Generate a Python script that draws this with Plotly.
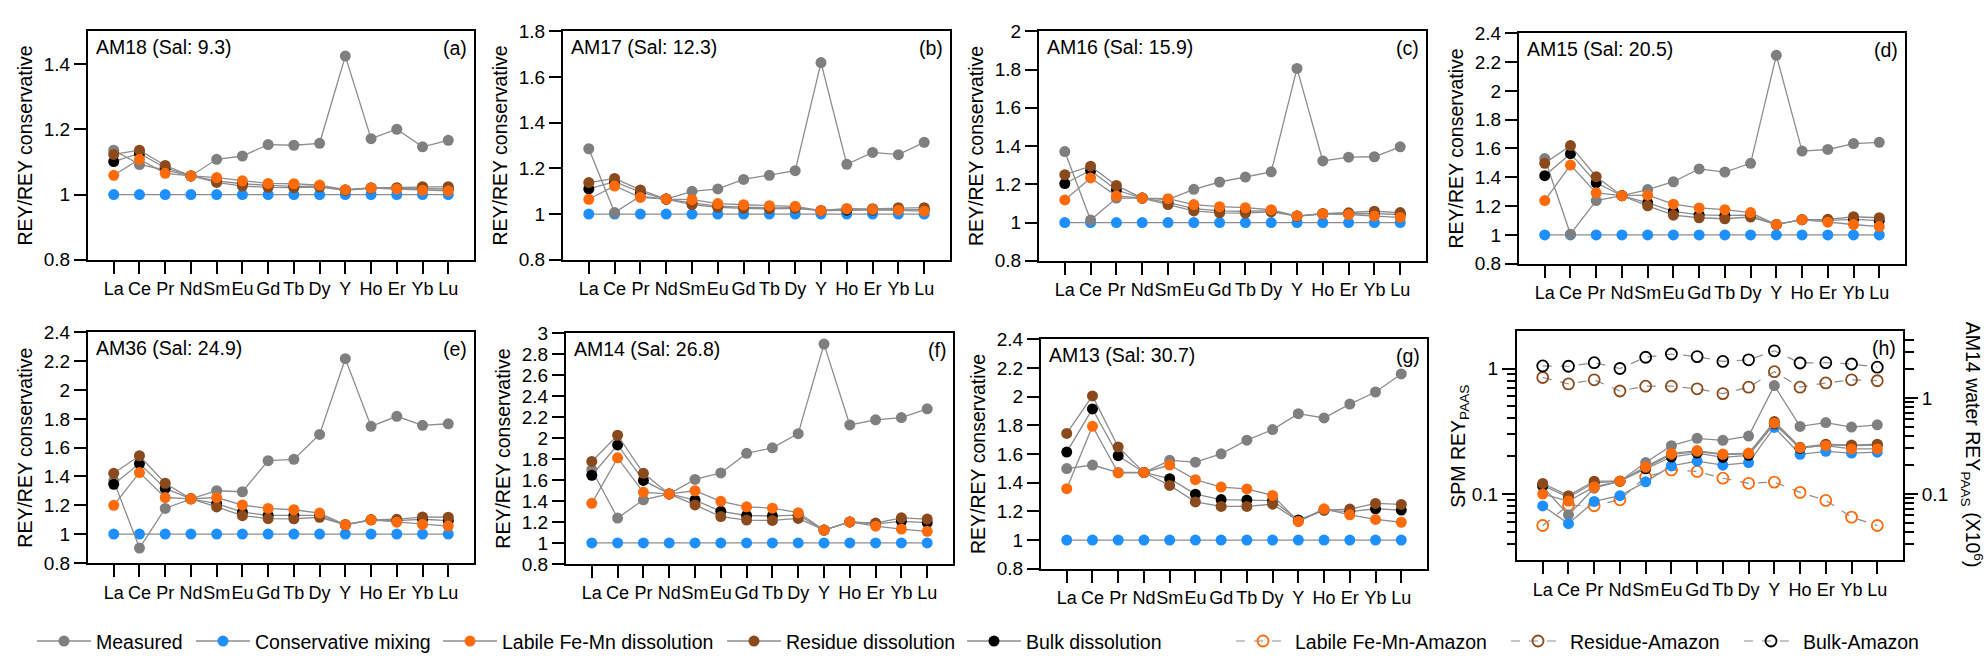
import plotly.graph_objects as go

# ---------------- data ----------------
ELEMENTS = ["La", "Ce", "Pr", "Nd", "Sm", "Eu", "Gd", "Tb", "Dy", "Y", "Ho", "Er", "Yb", "Lu"]

CONSERVATIVE = [1.0, 1.0, 1.0, 1.0, 1.0, 1.0, 1.0, 1.0, 1.0, 1.0, 1.0, 1.0, 1.0, 1.0]

# (a) AM18
AM18_MEASURED = [1.136, 1.092, 1.075, 1.057, 1.108, 1.118, 1.153, 1.151, 1.157, 1.424, 1.171, 1.200, 1.146, 1.166]
AM18_LABILE = [1.059, 1.108, 1.065, 1.057, 1.052, 1.042, 1.034, 1.033, 1.029, 1.015, 1.020, 1.017, 1.013, 1.011]
AM18_RESIDUE = [1.123, 1.136, 1.089, 1.057, 1.037, 1.026, 1.022, 1.021, 1.023, 1.013, 1.020, 1.021, 1.024, 1.024]
AM18_BULK = [1.101, 1.126, 1.082, 1.057, 1.042, 1.033, 1.028, 1.025, 1.026, 1.014, 1.020, 1.019, 1.020, 1.017]

# (b) AM17
AM17_MEASURED = [1.286, 1.007, 1.078, 1.066, 1.100, 1.110, 1.152, 1.170, 1.190, 1.663, 1.218, 1.270, 1.260, 1.314]
AM17_LABILE = [1.065, 1.123, 1.073, 1.066, 1.063, 1.046, 1.041, 1.037, 1.034, 1.015, 1.025, 1.020, 1.017, 1.013]
AM17_RESIDUE = [1.138, 1.156, 1.106, 1.066, 1.042, 1.030, 1.025, 1.023, 1.025, 1.015, 1.021, 1.024, 1.028, 1.028]
AM17_BULK = [1.110, 1.142, 1.096, 1.066, 1.049, 1.035, 1.031, 1.027, 1.028, 1.015, 1.017, 1.018, 1.021, 1.020]

# (c) AM16
AM16_MEASURED = [1.371, 1.013, 1.128, 1.128, 1.120, 1.174, 1.212, 1.238, 1.265, 1.806, 1.322, 1.342, 1.344, 1.396]
AM16_LABILE = [1.118, 1.233, 1.140, 1.128, 1.125, 1.094, 1.083, 1.078, 1.067, 1.034, 1.046, 1.042, 1.034, 1.027]
AM16_RESIDUE = [1.250, 1.295, 1.194, 1.128, 1.094, 1.061, 1.051, 1.049, 1.056, 1.034, 1.046, 1.051, 1.059, 1.052]
AM16_BULK = [1.204, 1.272, 1.170, 1.128, 1.106, 1.073, 1.061, 1.059, 1.061, 1.034, 1.046, 1.046, 1.047, 1.042]

# (d) AM15
AM15_MEASURED = [1.530, 1.005, 1.238, 1.272, 1.315, 1.369, 1.458, 1.436, 1.497, 2.247, 1.582, 1.593, 1.634, 1.643]
AM15_LABILE = [1.238, 1.485, 1.292, 1.272, 1.276, 1.213, 1.187, 1.175, 1.155, 1.072, 1.106, 1.088, 1.072, 1.058]
AM15_RESIDUE = [1.497, 1.620, 1.404, 1.272, 1.202, 1.137, 1.119, 1.112, 1.124, 1.072, 1.106, 1.108, 1.126, 1.119]
AM15_BULK = [1.411, 1.564, 1.362, 1.272, 1.222, 1.164, 1.139, 1.135, 1.137, 1.072, 1.106, 1.101, 1.108, 1.099]

# (e) AM36
AM36_MEASURED = [1.369, 0.903, 1.178, 1.245, 1.301, 1.294, 1.510, 1.519, 1.692, 2.218, 1.748, 1.818, 1.755, 1.766]
AM36_LABILE = [1.200, 1.427, 1.254, 1.245, 1.254, 1.202, 1.178, 1.169, 1.146, 1.065, 1.099, 1.083, 1.067, 1.056]
AM36_RESIDUE = [1.422, 1.544, 1.353, 1.245, 1.189, 1.128, 1.108, 1.106, 1.117, 1.065, 1.099, 1.103, 1.119, 1.117]
AM36_BULK = [1.346, 1.490, 1.317, 1.245, 1.211, 1.153, 1.130, 1.128, 1.130, 1.065, 1.099, 1.094, 1.103, 1.094]

# (f) AM14
AM14_MEASURED = [1.698, 1.237, 1.412, 1.468, 1.606, 1.668, 1.855, 1.908, 2.043, 2.898, 2.126, 2.175, 2.197, 2.280]
AM14_LABILE = [1.378, 1.812, 1.483, 1.468, 1.498, 1.397, 1.345, 1.332, 1.289, 1.123, 1.200, 1.160, 1.132, 1.111]
AM14_RESIDUE = [1.778, 2.028, 1.665, 1.468, 1.363, 1.252, 1.218, 1.215, 1.234, 1.123, 1.200, 1.190, 1.240, 1.228]
AM14_BULK = [1.646, 1.935, 1.597, 1.468, 1.409, 1.302, 1.262, 1.258, 1.265, 1.123, 1.200, 1.182, 1.206, 1.194]

# (g) AM13
AM13_MEASURED = [1.498, 1.523, 1.471, 1.471, 1.556, 1.543, 1.601, 1.696, 1.770, 1.881, 1.851, 1.948, 2.032, 2.158]
AM13_LABILE = [1.358, 1.793, 1.468, 1.471, 1.523, 1.421, 1.369, 1.356, 1.311, 1.128, 1.218, 1.176, 1.144, 1.124]
AM13_RESIDUE = [1.743, 2.005, 1.649, 1.471, 1.381, 1.266, 1.234, 1.234, 1.250, 1.133, 1.209, 1.216, 1.255, 1.248]
AM13_BULK = [1.613, 1.914, 1.588, 1.471, 1.428, 1.320, 1.282, 1.279, 1.275, 1.140, 1.209, 1.198, 1.218, 1.209]

# (h) AM14 water REY_PAAS (x10^6), right axis
H_MEASURED = [0.119, 0.0605, 0.115, 0.136, 0.213, 0.319, 0.381, 0.363, 0.402, 1.35, 0.507, 0.556, 0.499, 0.526]
H_CONSERVATIVE = [0.0751, 0.0491, 0.0837, 0.0962, 0.134, 0.196, 0.220, 0.200, 0.213, 0.495, 0.259, 0.279, 0.267, 0.273]
H_LABILE = [0.100, 0.0844, 0.1186, 0.136, 0.193, 0.265, 0.284, 0.261, 0.267, 0.547, 0.304, 0.319, 0.295, 0.295]
H_RESIDUE = [0.129, 0.0962, 0.136, 0.136, 0.188, 0.257, 0.277, 0.257, 0.263, 0.569, 0.307, 0.331, 0.324, 0.331]
H_BULK = [0.123, 0.0925, 0.131, 0.136, 0.183, 0.243, 0.267, 0.241, 0.253, 0.539, 0.300, 0.326, 0.319, 0.324]

# (h) SPM REY_PAAS, left axis
SPM_LABILE_AMAZON = [0.0561, 0.0813, 0.0806, 0.0899, 0.1368, 0.1556, 0.1512, 0.1336, 0.1216, 0.1244, 0.103, 0.0889, 0.0654, 0.0561]
SPM_RESIDUE_AMAZON = [0.848, 0.753, 0.813, 0.662, 0.723, 0.723, 0.689, 0.631, 0.710, 0.943, 0.710, 0.767, 0.813, 0.799]
SPM_BULK_AMAZON = [1.048, 1.042, 1.112, 1.000, 1.229, 1.305, 1.244, 1.139, 1.173, 1.384, 1.106, 1.112, 1.086, 1.024]

SAMPLES = ["AM18", "AM17", "AM16", "AM15", "AM36", "AM14", "AM13"]
SALINITY = ["9.3", "12.3", "15.9", "20.5", "24.9", "26.8", "30.7"]
PANEL_LETTERS = ["(a)", "(b)", "(c)", "(d)", "(e)", "(f)", "(g)", "(h)"]

# ---------------- layout / style ----------------
W, H = 1986, 663
FONT = "Arial, 'Liberation Sans', Helvetica, sans-serif"
C_GRAY = "#7f7f7f"
C_BLUE = "#1e8fff"
C_ORANGE = "#ff6a0a"
C_BROWN = "#8b4a1c"
C_BLACK = "#000000"
C_LINE = "#8c8c8c"

# panel boxes in pixels: (left, top, right, bottom)
BOXES = [
    (88, 22, 474, 258), (563, 22, 950, 258), (1039, 22, 1426, 259), (1519, 24, 1905, 262),
    (88, 333, 474, 571), (566, 334, 953, 572), (1041, 340, 1427, 577), (1517, 332, 1903, 568),
]
YRANGES = [[0.8, 1.5], [0.8, 1.8], [0.8, 2.0], [0.8, 2.4], [0.8, 2.4], [0.8, 3.0], [0.8, 2.4]]

PANEL_DATA = [
    (AM18_MEASURED, AM18_LABILE, AM18_RESIDUE, AM18_BULK),
    (AM17_MEASURED, AM17_LABILE, AM17_RESIDUE, AM17_BULK),
    (AM16_MEASURED, AM16_LABILE, AM16_RESIDUE, AM16_BULK),
    (AM15_MEASURED, AM15_LABILE, AM15_RESIDUE, AM15_BULK),
    (AM36_MEASURED, AM36_LABILE, AM36_RESIDUE, AM36_BULK),
    (AM14_MEASURED, AM14_LABILE, AM14_RESIDUE, AM14_BULK),
    (AM13_MEASURED, AM13_LABILE, AM13_RESIDUE, AM13_BULK),
]

# each legend entry gets its own legend box; value = pixel where its text starts
LEGEND_OF = {"Measured": "legend", "Conservative mixing": "legend2",
             "Labile Fe-Mn dissolution": "legend3", "Residue dissolution": "legend4",
             "Bulk dissolution": "legend5", "Labile Fe-Mn-Amazon": "legend6",
             "Residue-Amazon": "legend7", "Bulk-Amazon": "legend8"}
LEGEND_TEXT_X = {"legend": 98, "legend2": 257, "legend3": 504, "legend4": 788, "legend5": 1028,
                 "legend6": 1297, "legend7": 1572, "legend8": 1805}
LEGEND_Y = 652
LEGEND_ITEMWIDTH = 54

MARKER_SIZE = 11


def fx(p):
    return p / W


def fy(p):
    return 1 - p / H


fig = go.Figure()


def add_series(name, values, color, xa, ya, show):
    fig.add_trace(go.Scatter(
        x=ELEMENTS, y=values, name=name, mode="lines+markers",
        xaxis=xa, yaxis=ya,
        line=dict(color=C_LINE, width=1.3),
        marker=dict(color=color, size=MARKER_SIZE, line=dict(width=0)),
        legendgroup=name, showlegend=show, legend=LEGEND_OF[name],
    ))


for i, (meas, lab, res, bulk) in enumerate(PANEL_DATA):
    n = i + 1
    xa, ya = f"x{n}", f"y{n}"
    show = (i == 0)
    add_series("Conservative mixing", CONSERVATIVE, C_BLUE, xa, ya, show)
    add_series("Measured", meas, C_GRAY, xa, ya, show)
    add_series("Bulk dissolution", bulk, C_BLACK, xa, ya, show)
    add_series("Residue dissolution", res, C_BROWN, xa, ya, show)
    add_series("Labile Fe-Mn dissolution", lab, C_ORANGE, xa, ya, show)

# panel (h): SPM (left axis, open circles, dashed)
for name, values, color in [("Labile Fe-Mn-Amazon", SPM_LABILE_AMAZON, C_ORANGE),
                            ("Residue-Amazon", SPM_RESIDUE_AMAZON, C_BROWN),
                            ("Bulk-Amazon", SPM_BULK_AMAZON, C_BLACK)]:
    fig.add_trace(go.Scatter(
        x=ELEMENTS, y=values, name=name, mode="lines+markers",
        xaxis="x8", yaxis="y8",
        line=dict(color=C_LINE, width=1.2, dash="dash"),
        marker=dict(symbol="circle-open", color=color, size=MARKER_SIZE, line=dict(width=1.8, color=color)),
        showlegend=True, legend=LEGEND_OF[name],
    ))

# panel (h): AM14 water (right axis)
for name, values, color in [("Measured", H_MEASURED, C_GRAY),
                            ("Conservative mixing", H_CONSERVATIVE, C_BLUE),
                            ("Bulk dissolution", H_BULK, C_BLACK),
                            ("Residue dissolution", H_RESIDUE, C_BROWN),
                            ("Labile Fe-Mn dissolution", H_LABILE, C_ORANGE)]:
    add_series(name, values, color, "x8", "y9", False)

layout = dict(
    width=W, height=H, autosize=False,
    margin=dict(l=0, r=0, t=0, b=0),
    paper_bgcolor="white", plot_bgcolor="white",
    font=dict(family=FONT, size=18, color="black"),
    showlegend=True,
)
for key, px in LEGEND_TEXT_X.items():
    layout[key] = dict(orientation="h", x=fx(px - LEGEND_ITEMWIDTH - 12), y=fy(LEGEND_Y),
                       xanchor="left", yanchor="middle",
                       font=dict(size=19.5), itemwidth=LEGEND_ITEMWIDTH,
                       bgcolor="rgba(0,0,0,0)", borderwidth=0)

axis_common = dict(showline=True, linecolor="black", linewidth=2, mirror=True,
                   ticks="outside", tickcolor="black", tickwidth=1.5,
                   showgrid=False, zeroline=False)

annotations = []
for i, (l, t, r, b) in enumerate(BOXES):
    n = i + 1
    layout[f"xaxis{n}"] = dict(
        domain=[fx(l), fx(r)], anchor=f"y{n}", type="category",
        categoryorder="array", categoryarray=ELEMENTS, range=[-1, 14],
        tickangle=0, ticklen=12, tickfont=dict(size=18), **axis_common)
    if i < 7:
        layout[f"yaxis{n}"] = dict(
            domain=[fy(b), fy(t)], anchor=f"x{n}", range=YRANGES[i],
            tick0=0.8, dtick=0.2, ticklen=12, tickfont=dict(size=19), **axis_common)
        annotations.append(dict(
            text=f"{SAMPLES[i]} (Sal: {SALINITY[i]})", x=fx(l + 6), y=fy(t + 16),
            xref="paper", yref="paper", xanchor="left", yanchor="middle",
            showarrow=False, font=dict(size=19.5)))
        annotations.append(dict(
            text="REY/REY conservative", x=fx(l - 63), y=fy((t + b) / 2),
            xref="paper", yref="paper", xanchor="center", yanchor="middle",
            textangle=-90, showarrow=False, font=dict(size=19.5)))
    annotations.append(dict(
        text=PANEL_LETTERS[i], x=fx(r - 5), y=fy(t + 17),
        xref="paper", yref="paper", xanchor="right", yanchor="middle",
        showarrow=False, font=dict(size=19.5)))

l, t, r, b = BOXES[7]
layout["yaxis8"] = dict(
    domain=[fy(b), fy(t)], anchor="x8", type="log", range=[-1.526, 0.295],
    tickmode="array", tickvals=[0.1, 1], ticktext=["0.1", "1"], ticklen=13,
    tickfont=dict(size=19),
    minor=dict(tickmode="array",
               tickvals=[0.04, 0.05, 0.06, 0.07, 0.08, 0.09, 0.2, 0.3, 0.4, 0.5, 0.6, 0.7, 0.8, 0.9],
               ticks="outside", ticklen=8, tickcolor="black", tickwidth=1.5),
    **axis_common)
layout["yaxis9"] = dict(
    overlaying="y8", side="right", anchor="x8", type="log", range=[-1.688, 0.6946],
    tickmode="array", tickvals=[0.1, 1], ticktext=["0.1", "1"],
    ticklen=13, tickfont=dict(size=19),
    minor=dict(tickmode="array",
               tickvals=[0.03, 0.04, 0.05, 0.06, 0.07, 0.08, 0.09, 0.2, 0.3, 0.4, 0.5, 0.6, 0.7, 0.8, 0.9, 2, 3, 4],
               ticks="outside", ticklen=9, tickcolor="black", tickwidth=1.5),
    showline=True, linecolor="black", linewidth=2, ticks="outside", tickcolor="black",
    tickwidth=1.5, showgrid=False, zeroline=False)

annotations.append(dict(
    text="SPM REY<sub>PAAS</sub>", x=fx(1460), y=fy(451), xref="paper", yref="paper",
    xanchor="center", yanchor="middle", textangle=-90, showarrow=False, font=dict(size=19.5)))
annotations.append(dict(
    text="AM14 water REY<sub>PAAS</sub> (X10<sup>6</sup>)", x=fx(1972), y=fy(449),
    xref="paper", yref="paper", xanchor="center", yanchor="middle", textangle=90,
    showarrow=False, font=dict(size=19.5)))

layout["annotations"] = annotations
fig.update_layout(**layout)

fig.write_html("out.html", config={"displayModeBar": False},
               post_script="document.body.style.margin='0';")
